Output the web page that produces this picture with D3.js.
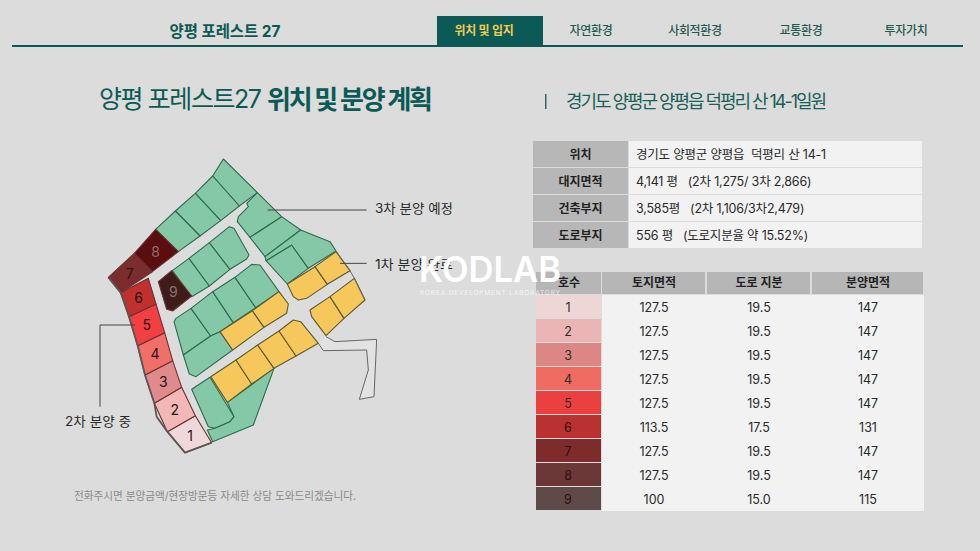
<!DOCTYPE html>
<html lang="ko">
<head>
<meta charset="UTF-8">
<title>양평 포레스트 27</title>
<script src="https://d3js.org/d3.v7.min.js"></script>
<style>
  html, body { margin: 0; padding: 0; background: #dcdcdc; }
  svg { display: block; }
  text { font-family: Inter, "Noto Sans CJK KR", "Noto Sans", sans-serif; }
</style>
</head>
<body>
<svg id="chart" width="980" height="551"></svg>
<script>
// menu
var navItems = ["위치 및 입지", "자연환경", "사회적환경", "교통환경", "투자가치"];

// info table
var infoLabels = ["위치", "대지면적", "건축부지", "도로부지"];
var infoValues = [
  "경기도 양평군 양평읍  덕평리 산 14-1",
  "4,141 평   (2차 1,275/ 3차 2,866)",
  "3,585평   (2차 1,106/3차2,479)",
  "556 평   (도로지분율 약 15.52%)"
];

// lot table
var lotHeaders = ["호수", "토지면적", "도로 지분", "분양면적"];
var lotNumbers = [1, 2, 3, 4, 5, 6, 7, 8, 9];
var landArea = ["127.5", "127.5", "127.5", "127.5", "127.5", "113.5", "127.5", "127.5", "100"];
var roadShare = ["19.5", "19.5", "19.5", "19.5", "19.5", "17.5", "19.5", "19.5", "15.0"];
var saleArea = ["147", "147", "147", "147", "147", "131", "147", "147", "115"];
var lotTableColors = ["#efd6d6", "#ecb5b5", "#dc8686", "#ee6c62", "#ec3f3f", "#b93131", "#7d2b2b", "#6b3737", "#5e4b49"];

// site plan lots, in plan units
var soldLots = [
  [[232,845],[316,797],[365,878],[285,908]],
  [[193,760],[275,712],[316,797],[232,845]],
  [[165,675],[248,632],[275,712],[193,760]],
  [[143,587],[224,548],[248,632],[165,675]],
  [[117,500],[198,462],[224,548],[143,587]],
  [[92,428],[175,385],[198,462],[117,500]],
  [[55,382],[133,310],[187,365],[92,428]],
  [[197,238],[265,305],[187,365],[133,310]],
  [[205,395],[245,362],[305,438],[248,483],[230,478]]
];
var soldLotColors = ["#f0d8da", "#f2b8b8", "#e08a8e", "#f06f68", "#f23f42", "#c0302f", "#7b2c2c", "#5a0e0f", "#3f1c1c"];

var thirdPhaseLots = [
  [[400,27],[502,128],[448,168],[368,78]],
  [[368,78],[448,168],[392,212],[316,130]],
  [[316,130],[392,212],[330,258],[256,183]],
  [[256,183],[330,258],[265,305],[197,238]],
  [[247,362],[297,325],[358,408],[305,440]],
  [[297,325],[358,278],[420,358],[358,408]],
  [[358,278],[418,230],[432,235],[477,315],[470,327],[420,358]],
  [[252,515],[258,505],[303,475],[362,558],[280,615]],
  [[303,475],[368,425],[430,518],[390,545],[362,558]],
  [[368,425],[435,382],[497,473],[430,518]],
  [[435,382],[485,343],[510,345],[567,425],[497,473]],
  [[280,615],[362,558],[390,545],[428,600],[318,680],[298,672]],
  [[305,718],[360,682],[432,800],[420,815],[375,835],[355,830]],
  [[412,757],[552,655],[490,825],[368,875],[352,840],[375,835],[420,815],[432,800]],
  [[502,128],[575,200],[480,262],[442,215],[445,200],[475,170],[470,160]],
  [[480,262],[575,200],[632,240],[525,320]],
  [[528,332],[605,285],[655,355],[592,402]],
  [[632,240],[720,275],[738,303],[655,355],[605,285],[528,332],[525,320]]
];

var firstPhaseLots = [
  [[390,545],[487,482],[522,532],[428,600]],
  [[487,482],[567,425],[595,462],[590,490],[522,532]],
  [[362,680],[438,630],[485,702],[412,757]],
  [[438,630],[503,585],[552,655],[485,702]],
  [[503,585],[567,543],[618,618],[552,655]],
  [[567,543],[610,510],[632,515],[685,580],[618,618]],
  [[592,402],[675,350],[712,403],[650,445],[625,450],[610,440]],
  [[675,350],[738,305],[780,362],[712,403]],
  [[660,480],[720,440],[762,505],[708,557],[665,500]],
  [[720,440],[793,385],[825,450],[762,505]]
];

var accessRoad = [[708,560],[735,575],[860,568],[852,740],[808,748],[835,660],[830,600],[700,602],[685,580]];
var westEdge = [[55,382],[92,428],[117,500],[143,587],[165,675],[193,760],[200,800],[232,845],[285,908],[365,878]];
var eastEdge = [[738,303],[780,362],[793,385],[825,450]];

// callouts, in plan units
var calloutThird = [[533,180],[830,180]];
var calloutFirst = [[750,340],[830,340]];
var calloutSecond = [[135,525],[30,525],[30,770]];

var svg = d3.select("#chart");
var green = "#84c8a7", yellow = "#f6c75b", lotStroke = "#2f6a4e", teal = "#0c5a55";

var planX = d3.scaleLinear().domain([0, 900]).range([90, 390]);
var planY = d3.scaleLinear().domain([0, 930]).range([150, 460]);
var planLine = d3.line().x(function (d) { return planX(d[0]); }).y(function (d) { return planY(d[1]); });

// text helper, width
function label(parent, x, y, str, opts) {
  opts = opts || {};
  var t = parent.append("text")
    .attr("x", x).attr("y", y)
    .attr("dominant-baseline", "central")
    .attr("text-anchor", opts.anchor || "start")
    .attr("font-size", opts.size || 12)
    .attr("font-weight", opts.weight || 400)
    .attr("fill", opts.fill || "#222")
    .text(str);
  if (opts.width) t.attr("textLength", opts.width).attr("lengthAdjust", opts.adjust || "spacingAndGlyphs");
  return t;
}

// header
svg.append("rect").attr("x", 12).attr("y", 45).attr("width", 951).attr("height", 2).attr("fill", teal);
svg.append("rect").attr("x", 437).attr("y", 16).attr("width", 106).attr("height", 30).attr("fill", teal);
label(svg, 225, 31, "양평 포레스트 27", { anchor: "middle", size: 16, weight: 700, fill: teal, width: 111 });

var navCenters = d3.scaleOrdinal().domain(navItems).range([484, 591, 695, 801, 906]);
svg.selectAll(".nav").data(navItems).enter().append("text")
  .attr("class", "nav")
  .attr("x", function (d) { return navCenters(d); })
  .attr("y", 30.5)
  .attr("text-anchor", "middle")
  .attr("dominant-baseline", "central")
  .attr("font-size", 12)
  .attr("font-weight", function (d, i) { return i == 0 ? 700 : 500; })
  .attr("fill", function (d, i) { return i == 0 ? "#f0cb52" : "#1f5a50"; })
  .attr("letter-spacing", -0.3)
  .text(function (d) { return d; });

// title row
label(svg, 99, 99, "양평 포레스트27", { size: 25, weight: 400, fill: teal, width: 163, adjust: "spacing" });
label(svg, 267, 99, "위치 및 분양 계획", { size: 26, weight: 700, fill: teal, width: 166, adjust: "spacing" });
svg.append("rect").attr("x", 545).attr("y", 94).attr("width", 1.5).attr("height", 15).attr("fill", "#2d6a64");
label(svg, 566, 101, "경기도 양평군 양평읍 덕평리 산 14-1일원", { size: 18, fill: "#1b5f58", width: 261, adjust: "spacing" });

// site plan
var plan = svg.append("g");
plan.append("path").attr("d", planLine(accessRoad))
  .attr("fill", "#e2e2e2").attr("stroke", "#666").attr("stroke-width", 1);

function drawLots(lots, fill, stroke) {
  plan.append("g").selectAll("path").data(lots).enter().append("path")
    .attr("d", function (d) { return planLine(d) + "Z"; })
    .attr("fill", typeof fill == "string" ? fill : function (d, i) { return fill[i]; })
    .attr("stroke", stroke)
    .attr("stroke-width", 1.1)
    .attr("stroke-linejoin", "round");
}
drawLots(thirdPhaseLots, green, lotStroke);
drawLots(firstPhaseLots, yellow, "#5c5a2c");
drawLots(soldLots, soldLotColors, "#6b3232");

plan.append("path").attr("d", planLine(westEdge))
  .attr("fill", "none").attr("stroke", "#5f5555").attr("stroke-width", 1.8).attr("stroke-linejoin", "round");
plan.append("path").attr("d", planLine(eastEdge))
  .attr("fill", "none").attr("stroke", "#666").attr("stroke-width", 1);

plan.selectAll(".lotnum").data(soldLots).enter().append("text")
  .attr("class", "lotnum")
  .attr("x", function (d) { return planX(d3.polygonCentroid(d)[0]); })
  .attr("y", function (d) { return planY(d3.polygonCentroid(d)[1]); })
  .attr("text-anchor", "middle")
  .attr("dominant-baseline", "central")
  .attr("font-size", 14)
  .attr("fill", function (d, i) { return i >= 7 ? "#8d6f66" : "#2a1414"; })
  .text(function (d, i) { return lotNumbers[i]; });

// callouts
[calloutThird, calloutFirst, calloutSecond].forEach(function (c) {
  svg.append("path").attr("d", planLine(c)).attr("fill", "none").attr("stroke", "#444").attr("stroke-width", 1);
});
label(svg, 375, 208, "3차 분양 예정", { size: 13, fill: "#2b2b2b", width: 78 });
label(svg, 375, 264, "1차 분양 완료", { size: 13, fill: "#2b2b2b", width: 78 });
label(svg, 65, 421, "2차 분양 중", { size: 13, fill: "#2b2b2b", width: 66 });
label(svg, 74, 496, "전화주시면 분양금액/현장방문등 자세한 상담 도와드리겠습니다.", { size: 11, fill: "#8a8a8a", width: 282 });

// info table
var infoY = d3.scaleBand().domain(infoLabels).range([141, 249]);
var infoRows = svg.append("g").selectAll("g").data(infoLabels).enter().append("g")
  .attr("transform", function (d) { return "translate(0," + infoY(d) + ")"; });
infoRows.append("rect").attr("x", 533).attr("width", 95)
  .attr("height", infoY.bandwidth() - 1).attr("fill", "#b7b7b7");
infoRows.append("rect").attr("x", 629).attr("width", 293)
  .attr("height", infoY.bandwidth() - 1).attr("fill", "#f2f2f2");
infoRows.append("text").attr("x", 580.5).attr("y", infoY.bandwidth() / 2 - 0.5)
  .attr("text-anchor", "middle").attr("dominant-baseline", "central")
  .attr("font-size", 12).attr("font-weight", 700).attr("fill", "#222")
  .text(function (d) { return d; });
infoRows.append("text").attr("x", 636).attr("y", infoY.bandwidth() / 2 - 0.5)
  .attr("dominant-baseline", "central")
  .style("white-space", "pre")
  .attr("font-size", 12.5).attr("letter-spacing", -0.2).attr("fill", "#2b2b2b")
  .text(function (d, i) { return infoValues[i]; });

// lot table
var colLeft = d3.scaleOrdinal().domain(lotHeaders).range([536, 602, 707, 812]);
var colWidth = d3.scaleOrdinal().domain(lotHeaders).range([66, 104, 104, 112]);
var rowY = d3.scaleBand().domain(lotNumbers).range([295, 511]);

lotHeaders.forEach(function (h) {
  svg.append("rect").attr("x", colLeft(h)).attr("y", 272)
    .attr("width", colWidth(h) - 1).attr("height", 22).attr("fill", "#b6b6b6");
  label(svg, colLeft(h) + colWidth(h) / 2, 282.5, h, { anchor: "middle", size: 12, weight: 700, fill: "#222" });
});

var lotRows = svg.append("g").selectAll("g").data(lotNumbers).enter().append("g")
  .attr("transform", function (d) { return "translate(0," + rowY(d) + ")"; });
lotRows.append("rect").attr("x", colLeft(lotHeaders[1])).attr("width", 322)
  .attr("height", rowY.bandwidth()).attr("fill", "#f2f2f2");
lotRows.append("rect").attr("x", colLeft(lotHeaders[0])).attr("width", colWidth(lotHeaders[0]) - 1)
  .attr("height", rowY.bandwidth() - 1)
  .attr("fill", function (d, i) { return lotTableColors[i]; });

var rowValues = [lotNumbers, landArea, roadShare, saleArea];
lotHeaders.forEach(function (h, c) {
  lotRows.append("text")
    .attr("x", colLeft(h) + colWidth(h) / 2 - (c == 0 ? 1 : 0))
    .attr("y", rowY.bandwidth() / 2)
    .attr("text-anchor", "middle").attr("dominant-baseline", "central")
    .attr("font-size", 12.5)
    .attr("fill", function (d, i) { return c == 0 && i > 4 ? "#2a1010" : "#2b2b2b"; })
    .text(function (d, i) { return rowValues[c][i]; });
});

// watermark
var mark = svg.append("g");
mark.append("text").attr("x", 419).attr("y", 282)
  .attr("font-size", 36).attr("font-weight", 600)
  .attr("fill", "#fff").attr("textLength", 142).attr("lengthAdjust", "spacingAndGlyphs")
  .text("KODLAB");
mark.append("text").attr("x", 420).attr("y", 295)
  .attr("font-size", 6.5).attr("fill", "#fff").attr("fill-opacity", 0.75)
  .attr("textLength", 140)
  .text("KOREA DEVELOPMENT LABORATORY");
</script>
</body>
</html>
